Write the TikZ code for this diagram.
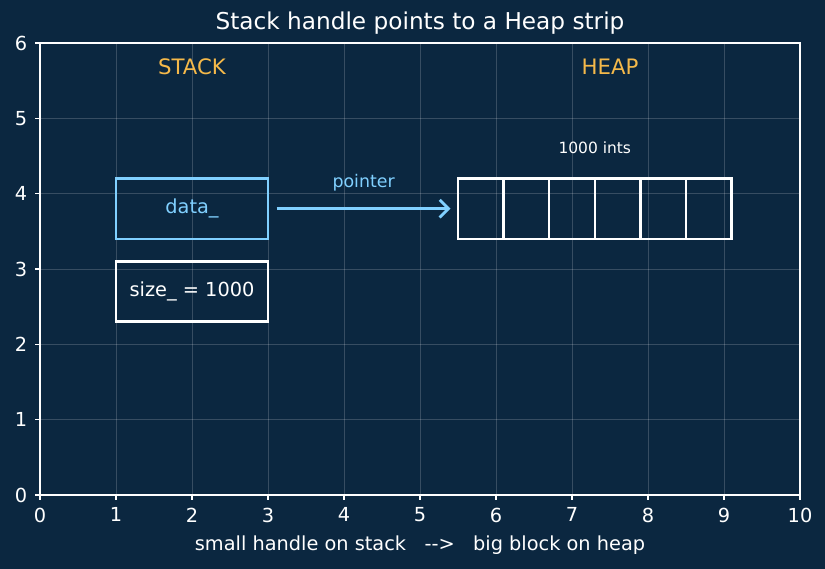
\documentclass[tikz,border=0pt]{standalone}
\usepackage{fontspec}
\setmainfont{DejaVu Sans}
\usepackage{tikz}
\usetikzlibrary{arrows.meta}
\definecolor{bgnavy}{HTML}{0B2740}
\definecolor{ptrblue}{HTML}{80D0FF}
\definecolor{lblorange}{HTML}{F5B94A}
\tikzset{
  cell/.style={draw=white,line width=1.4pt,minimum width=0.6*1.52cm,minimum height=0.8*1.5067cm,inner sep=0pt,outer sep=0pt},
  tick/.style={text=white,font=\fontsize{11}{13}\selectfont}
}

\begin{document}
\begin{tikzpicture}
  \fill[bgnavy] (0,0) rectangle (16.5,11.38);
  \useasboundingbox (0,0) rectangle (16.5,11.38);
  \begin{scope}[shift={(0.8,1.48)},x=1.52cm,y=1.5067cm]
    \foreach \i in {1,...,9} \draw[white,opacity=0.18,line width=0.4pt] (\i,0) -- (\i,6);
    \foreach \j in {1,...,5} \draw[white,opacity=0.18,line width=0.4pt] (0,\j) -- (10,\j);
    \draw[white,line width=0.6pt] (0,0) rectangle (10,6);
    \foreach \i in {0,...,10} {
      \draw[white,line width=0.6pt] (\i,0) -- ++(0,-0.1cm);
      \node[tick,anchor=north] at (\i,-0.13cm) {\i};
    }
    \foreach \j in {0,...,6} {
      \draw[white,line width=0.6pt] (0,\j) -- ++(-0.1cm,0);
      \node[tick,anchor=east] at (-0.13cm,\j) {\j};
    }

    \node[text=white,font=\fontsize{13.2}{15}\selectfont] (title) at (5,6.26) {Stack handle points to a Heap strip};
    \node[text=white,font=\fontsize{11}{13}\selectfont] (xlabel) at (5,-0.67) {small handle on stack\ \ \ -{}->\ \ \ big block on heap};

    \node[text=lblorange,font=\fontsize{12.1}{14}\selectfont] (stack) at (2,5.68) {STACK};
    \node[text=lblorange,font=\fontsize{12.1}{14}\selectfont] (heap) at (7.5,5.68) {HEAP};

    \node[draw=ptrblue,line width=1.4pt,text=ptrblue,minimum width=2*1.52cm,minimum height=0.8*1.5067cm,inner sep=0pt,font=\fontsize{11}{13}\selectfont] (data) at (2,3.8) {data\_};
    \node[draw=white,line width=1.4pt,text=white,minimum width=2*1.52cm,minimum height=0.8*1.5067cm,inner sep=0pt,font=\fontsize{11}{13}\selectfont] (size) at (2,2.7) {size\_ = 1000};

    \node[cell] (c1) at (5.8,3.8) {};
    \node[cell] (c2) at (6.4,3.8) {};
    \node[cell] (c3) at (7.0,3.8) {};
    \node[cell] (c4) at (7.6,3.8) {};
    \node[cell] (c5) at (8.2,3.8) {};
    \node[cell] (c6) at (8.8,3.8) {};
    \node[text=white,font=\fontsize{8.8}{10}\selectfont] (ints) at (7.3,4.61) {1000 ints};

    \draw[-{Straight Barb[length=5pt,width=10pt]},ptrblue,line width=1.6pt,shorten <=0.15cm,shorten >=0.15cm] (data.east) -- (c1.west)
      node[midway,above=0.2cm,font=\fontsize{9.9}{11}\selectfont,text=ptrblue] (ptr) {pointer};
  \end{scope}
\end{tikzpicture}
\end{document}
